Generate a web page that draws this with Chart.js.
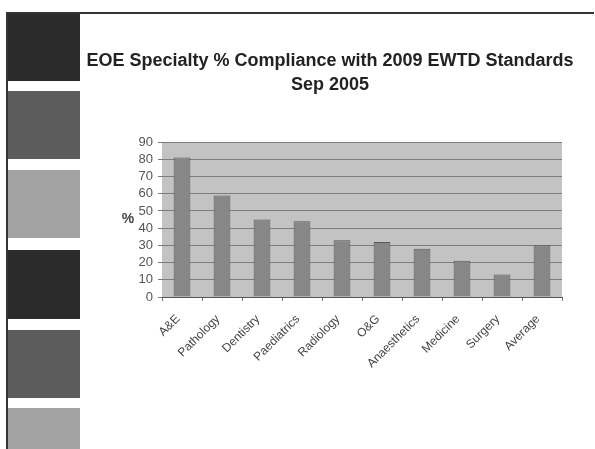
<!DOCTYPE html>
<html>
<head>
<meta charset="utf-8">
<script src="https://cdn.jsdelivr.net/npm/chart.js@4"></script>
<style>
  html, body { margin: 0; padding: 0; background: #fff; }
  #page { position: relative; width: 595px; height: 449px; overflow: hidden; background: #fff; }
  .frame-top { position: absolute; left: 7px; top: 12px; width: 587px; height: 2px; background: #333; }
  .frame-left { position: absolute; left: 6px; top: 12px; width: 2px; height: 437px; background: #333; }
  .block { position: absolute; left: 8px; width: 72px; }
  #wrap { position: absolute; left: 65px; top: 14px; width: 530px; height: 435px; }
</style>
</head>
<body>
<div id="page">
  <div class="frame-top"></div>
  <div class="frame-left"></div>
  <div class="block" style="top:14px;height:67px;background:#2b2b2b"></div>
  <div class="block" style="top:91px;height:68px;background:#5c5c5c"></div>
  <div class="block" style="top:170px;height:68px;background:#a2a2a2"></div>
  <div class="block" style="top:250px;height:69px;background:#2b2b2b"></div>
  <div class="block" style="top:330px;height:68px;background:#5c5c5c"></div>
  <div class="block" style="top:408px;height:41px;background:#a2a2a2"></div>
  <div id="wrap"><canvas id="chart" width="530" height="435"></canvas></div>
</div>
<script>
const specialties = ['A&E', 'Pathology', 'Dentistry', 'Paediatrics', 'Radiology', 'O&G', 'Anaesthetics', 'Medicine', 'Surgery', 'Average'];
const compliance = [81, 59, 45, 44, 33, 32, 28, 21, 13, 30];
const titleLines = ['EOE Specialty % Compliance with 2009 EWTD Standards', 'Sep 2005'];
const yMax = 90;
const yStep = 10;

const plotBackground = {
    id: 'plotBackground',
    beforeDraw(chart) {
        const { ctx, chartArea } = chart;
        ctx.save();
        ctx.fillStyle = '#c3c3c3';
        ctx.fillRect(chartArea.left, chartArea.top, chartArea.right - chartArea.left, chartArea.bottom - chartArea.top);
        ctx.restore();
    }
};

const percentLabel = {
    id: 'percentLabel',
    afterDraw(chart) {
        const { ctx, chartArea } = chart;
        ctx.save();
        ctx.fillStyle = '#444';
        ctx.font = 'bold 14px "Liberation Sans", Arial, sans-serif';
        ctx.textAlign = 'center';
        ctx.textBaseline = 'middle';
        ctx.fillText('%', chartArea.left - 34, chart.scales.y.getPixelForValue(45));
        ctx.restore();
    }
};

new Chart(document.getElementById('chart').getContext('2d'), {
    type: 'bar',
    data: {
        labels: specialties,
        datasets: [{
            data: compliance,
            backgroundColor: '#878787',
            borderColor: '#5a5a5a',
            borderWidth: 1,
            categoryPercentage: 1,
            barPercentage: 0.42
        }]
    },
    options: {
        responsive: false,
        animation: false,
        layout: { padding: 0 },
        plugins: {
            legend: { display: false },
            tooltip: { enabled: false },
            title: {
                display: true,
                text: titleLines,
                color: '#222',
                font: { family: '"Liberation Sans", Arial, sans-serif', size: 18, weight: 'bold', lineHeight: 1.28 },
                padding: { top: 36, bottom: 46 }
            }
        },
        scales: {
            x: {
                offset: true,
                grid: { display: true, drawOnChartArea: false, offset: true, tickLength: 4, color: '#777' },
                border: { color: '#555', width: 1 },
                ticks: {
                    color: '#444',
                    font: { family: '"Liberation Sans", Arial, sans-serif', size: 12 },
                    minRotation: 45,
                    maxRotation: 45,
                    autoSkip: false,
                    padding: 11,
                    labelOffset: -4
                },
                afterFit(scale) { scale.height = 152; }
            },
            y: {
                min: 0,
                max: yMax,
                grid: { color: '#7c7c7c', tickLength: 4 },
                border: { display: false },
                ticks: {
                    stepSize: yStep,
                    autoSkip: false,
                    color: '#555',
                    font: { family: '"Liberation Sans", Arial, sans-serif', size: 13 },
                    padding: 5
                },
                afterFit(scale) { scale.width = 97; }
            },
            // empty right-hand gutter so the plot ends where the slide's did
            gutter: {
                position: 'right',
                grid: { display: false },
                border: { display: false },
                ticks: { display: false },
                afterFit(scale) { scale.width = 33; }
            }
        }
    },
    plugins: [plotBackground, percentLabel]
});
</script>
</body>
</html>
